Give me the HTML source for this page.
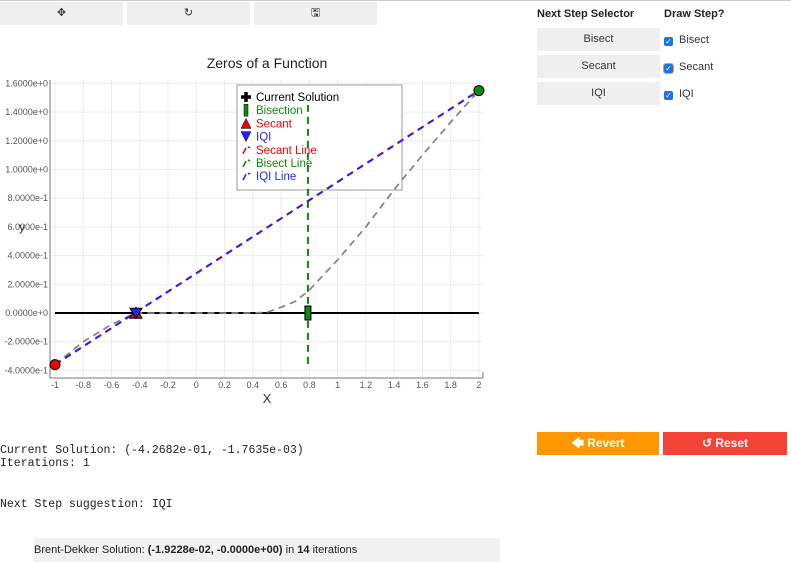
<!DOCTYPE html>
<html><head><meta charset="utf-8"><style>
body{margin:0;width:791px;height:563px;background:#fff;font-family:"Liberation Sans",sans-serif;position:relative;overflow:hidden}
.abs{position:absolute}
.tb{position:absolute;top:2px;height:23px;width:123px;background:#efefef;font-size:11px;text-align:center;line-height:23px;color:#333}
.sel{position:absolute;left:537px;width:123px;height:23px;background:#efefef;font-size:11px;text-align:center;line-height:23px;color:#333}
.cb{position:absolute;left:664px;font-size:11px;color:#333}
.cb span.box{display:inline-block;width:9px;height:9px;background:#1a73e8;border-radius:2px;color:#fff;font-size:8px;line-height:9px;text-align:center;vertical-align:-1px;margin-right:6px}
.mono{font-family:"Liberation Mono",monospace;font-size:11.5px;color:#222;position:absolute;left:0;line-height:13px}
</style></head><body>
<div class="abs" style="left:0;top:0;width:791px;height:1px;background:#ccc"></div>
<div class="tb" style="left:0">✥</div>
<div class="tb" style="left:127px">↻</div>
<div class="tb" style="left:254px">🖫</div>
<div class="abs" style="left:537px;top:8px;font-size:11px;font-weight:bold;color:#222">Next Step Selector</div>
<div class="abs" style="left:664px;top:8px;font-size:11px;font-weight:bold;color:#222">Draw Step?</div>
<div class="sel" style="top:28px">Bisect</div>
<div class="sel" style="top:55px">Secant</div>
<div class="sel" style="top:82px">IQI</div>
<div class="cb" style="top:34px"><span class="box">✓</span>Bisect</div>
<div class="cb" style="top:61px"><span class="box" style="outline:1px solid #e8a040">✓</span>Secant</div>
<div class="cb" style="top:88px"><span class="box">✓</span>IQI</div>
<div class="abs" style="left:537px;top:432px;width:122px;height:23px;background:#ff9800;color:#fff;font-size:12px;font-weight:bold;text-align:center;line-height:23px">🡄 Revert</div>
<div class="abs" style="left:663px;top:432px;width:124px;height:23px;background:#f44336;color:#fff;font-size:12px;font-weight:bold;text-align:center;line-height:23px">↺ Reset</div>
<div class="mono" style="top:444px">Current Solution: (-4.2682e-01, -1.7635e-03)</div>
<div class="mono" style="top:457px">Iterations: 1</div>
<div class="mono" style="top:498px">Next Step suggestion: IQI</div>
<div class="abs" style="left:34px;top:538px;width:466px;height:24px;background:#f1f1f1;font-size:11px;line-height:24px;color:#222">Brent-Dekker Solution: <b>(-1.9228e-02, -0.0000e+00)</b> in <b>14</b> iterations</div>

<svg class="abs" style="left:0;top:0" width="500" height="420">
<g id="grid"></g><g id="axes"></g><g id="leg"></g><g id="marks"></g>
</svg>
<script>
const xTicks=[-1,-0.8,-0.6,-0.4,-0.2,0,0.2,0.4,0.6,0.8,1,1.2,1.4,1.6,1.8,2];
const xTickLabels=["-1","-0.8","-0.6","-0.4","-0.2","0","0.2","0.4","0.6","0.8","1","1.2","1.4","1.6","1.8","2"];
const yTicks=[1.6,1.4,1.2,1.0,0.8,0.6,0.4,0.2,0,-0.2,-0.4];
const yTickLabels=["1.6000e+0","1.4000e+0","1.2000e+0","1.0000e+0","8.0000e-1","6.0000e-1","4.0000e-1","2.0000e-1","0.0000e+0","-2.0000e-1","-4.0000e-1"];
const funcX=[-1,-0.8,-0.6,-0.43,-0.3,0,0.4,0.5,0.6,0.7,0.8,1.0,1.2,1.4,1.6,1.8,2];
const funcY=[-0.36,-0.2,-0.08,0,0,0,0,0.005,0.04,0.08,0.16,0.37,0.6,0.86,1.1,1.33,1.55];
const secantX=[-1,2];const secantY=[-0.36,1.55];
const bisectX=[0.79,0.79];const bisectY=[1.45,-0.36];
const endpointsX=[-1,2];const endpointsY=[-0.36,1.55];
const currentX=-0.427;const currentY=-0.0018;
const bisectPt=[0.79,0];
const NS="http://www.w3.org/2000/svg";
const sx=v=>55+(v+1)*141.3, sy=v=>313-v*143.5;
function mk(p,t,a){const e=document.createElementNS(NS,t);for(const k in a)e.setAttribute(k,a[k]);p.appendChild(e);return e;}
const G=document.getElementById('grid'),A=document.getElementById('axes'),M=document.getElementById('marks');
xTicks.forEach((t,i)=>{const l=mk(G,'line',{x1:sx(t),x2:sx(t),y1:80,y2:378,stroke:'#ececec'});

const tx=mk(A,'text',{x:sx(t),y:388,'font-size':9,fill:'#555','text-anchor':'middle'});tx.textContent=xTickLabels[i];
});
yTicks.forEach((t,i)=>{const l=mk(G,'line',{x1:50,x2:483,y1:sy(t),y2:sy(t),stroke:'#ececec'});

const tx=mk(A,'text',{x:48,y:sy(t)+3,'font-size':9,fill:'#555','text-anchor':'end'});tx.textContent=yTickLabels[i];
});
mk(A,'path',{d:'M50,80 V378 H483 V372',stroke:'#777',fill:'none'});
let t=mk(A,'text',{x:267,y:68,'font-size':14,fill:'#222','text-anchor':'middle'});t.textContent='Zeros of a Function';

t=mk(A,'text',{x:267,y:403,'font-size':13,fill:'#333','text-anchor':'middle'});t.textContent='X';

t=mk(A,'text',{x:22,y:231,'font-size':12,fill:'#333','text-anchor':'middle'});t.textContent='y';

let z=mk(M,'line',{x1:sx(-1),x2:sx(2),y1:sy(0),y2:sy(0),stroke:'#000','stroke-width':2});

const pts=(X,Y)=>X.map((x,i)=>sx(x)+','+sy(Y[i])).join(' ');
let f=mk(M,'polyline',{points:pts(funcX,funcY),fill:'none',stroke:'#888','stroke-width':1.8,'stroke-dasharray':'7,5'});

let b=mk(M,'polyline',{points:pts(bisectX,bisectY),fill:'none',stroke:'#118811','stroke-width':2,'stroke-dasharray':'7,5'});

let s=mk(M,'polyline',{points:pts(secantX,secantY),fill:'none',stroke:'#f00','stroke-width':2,'stroke-dasharray':'7,5'});

let q=mk(M,'polyline',{points:pts(secantX,secantY),fill:'none',stroke:'#22f','stroke-width':2,'stroke-dasharray':'6,6'});

let e1=mk(M,'circle',{cx:sx(endpointsX[0]),cy:sy(endpointsY[0]),r:5,fill:'#e00',stroke:'#000'});

let e2=mk(M,'circle',{cx:sx(endpointsX[1]),cy:sy(endpointsY[1]),r:5,fill:'#118811',stroke:'#000'});

let bx=sx(bisectPt[0]),by=sy(bisectPt[1]);
let br=mk(M,'rect',{x:bx-3,y:by-7,width:6,height:14,fill:'#118811',stroke:'#000'});

let cx=sx(currentX),cy=sy(currentY);
let st=mk(M,'path',{d:`M${cx-6},${cy+5} L${cx},${cy-6} L${cx+6},${cy+5}Z`,fill:'#e00',stroke:'#000'});

let iq=mk(M,'path',{d:`M${cx-6},${cy-5} L${cx},${cy+5} L${cx+6},${cy-5}Z`,fill:'#22f',stroke:'#000'});

const L=document.getElementById('leg');

mk(L,'rect',{x:237,y:85,width:165,height:105,fill:'#fff',stroke:'#999'});
const leg=[['Current Solution','#000'],['Bisection','#118811'],['Secant','#f00'],['IQI','#22f'],['Secant Line','#f00'],['Bisect Line','#118811'],['IQI Line','#22f']];
leg.forEach((d,i)=>{const y=97+i*13.2;
const g=mk(L,'g',{});
if(i==0)mk(g,'path',{d:`M${246},${y-5}v10M${241},${y}h10`,stroke:'#000','stroke-width':3.5});
if(i==1)mk(g,'rect',{x:244,y:y-6,width:4,height:12,fill:'#118811',stroke:'#000','stroke-width':.5});
if(i==2)mk(g,'path',{d:`M241,${y+5}L246,${y-5}L251,${y+5}Z`,fill:'#e00',stroke:'#000','stroke-width':.5});
if(i==3)mk(g,'path',{d:`M241,${y-5}L246,${y+5}L251,${y-5}Z`,fill:'#22f',stroke:'#000','stroke-width':.5});
if(i>3)mk(g,'path',{d:`M243,${y+4}l3,-6M248,${y-3}l2,1`,stroke:d[1],'stroke-width':1.6});
const tx=mk(g,'text',{x:256,y:y+4,'font-size':11.5,fill:d[1]});tx.textContent=d[0];});
</script>
</body></html>
